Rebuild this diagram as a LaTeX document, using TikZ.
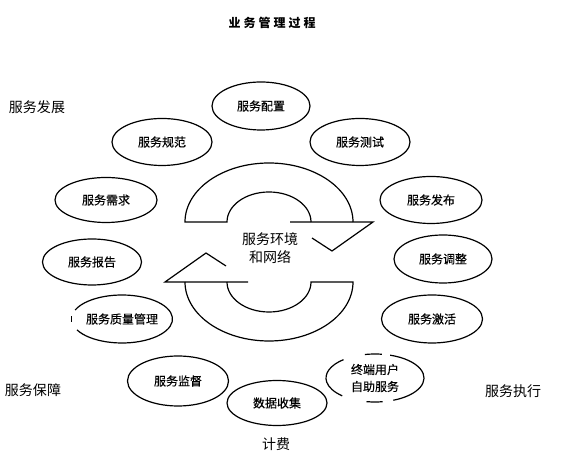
\documentclass[tikz,border=0pt]{standalone}
\usepackage{fontspec}
\setmainfont{Noto Sans CJK SC}
\newfontfamily\taskfont[FakeBold=0.4]{Noto Sans CJK SC}
\usetikzlibrary{shapes.geometric}

\begin{document}
\begin{tikzpicture}[
      x=1pt, y=1pt,
      task/.style={
        ellipse, draw, line width=1.2pt, inner sep=0pt,
        minimum width=100pt, minimum height=47pt,
        font=\taskfont\fontsize{12}{17}\selectfont, align=center
      },
      stage/.style={font=\fontsize{14}{16}\selectfont},
      loop/.style={line width=1.2pt, line join=miter}
      ]
      \useasboundingbox (0,0) rectangle (577,454);

      \node[font=\fontsize{12}{14}\selectfont\bfseries\addfontfeatures{LetterSpace=25}]
            (title) at (272,431) {业务管理过程};

      % stage labels
      \node[stage] (dev) at (37,347) {服务发展};
      \node[stage] (ens) at (33,64)  {服务保障};
      \node[stage] (exe) at (513,63) {服务执行};
      \node[stage] (fee) at (276,10) {计费};

      % process steps
      \node[task, minimum width=98pt, minimum height=48pt]  (pz) at (261,348) {服务配置};
      \node[task]                                           (gf) at (162,312) {服务规范};
      \node[task]                                           (cs) at (360,312) {服务测试};
      \node[task, minimum width=102pt, minimum height=45pt] (xq) at (106,254) {服务需求};
      \node[task, minimum width=102pt]                      (fb) at (431,254) {服务发布};
      \node[task, minimum width=99pt, minimum height=46pt]  (bg) at (92,192)  {服务报告};
      \node[task, minimum width=98pt, minimum height=48pt]  (tz) at (443,195) {服务调整};
      \node[task, draw=none]                                (zl) at (122,135) {服务质量管理};
      \node[task, minimum width=101pt, minimum height=48pt] (jh) at (432,135) {服务激活};
      \node[task, minimum width=101pt, minimum height=50pt] (jd) at (178,73)  {服务监督};
      \node[task, minimum height=45pt]                      (sj) at (277,51)  {数据收集};
      \node[task, draw=none]                                (zd) at (375,76)  {终端用户\\自助服务};

      % broken outlines
      \draw[line width=1.2pt] (zl.center) ++(-153:50.5pt and 24pt)
            arc[start angle=-153, end angle=158, x radius=50.5pt, y radius=24pt];
      \draw[line width=1.2pt] (zl.center) ++(174:50.5pt and 24pt)
            arc[start angle=174, end angle=186, x radius=50.5pt, y radius=24pt];
      \foreach \a/\b in {-68/72, 82/102, 130/228, 260/279}
        \draw[line width=1.2pt] (zd.center) ++(\a:49pt and 24pt)
              arc[start angle=\a, end angle=\b, x radius=49pt, y radius=24pt];

      % central cycle
      \coordinate (hub) at (269,202);
      \node[font=\fontsize{14}{18}\selectfont, align=center] (env) at (270,206) {服务环境\\和网络};
      \foreach \r in {0,180}{
        \draw[loop, rotate around={\r:(hub)}] ([shift={(21,30)}]hub) -- ([shift={(104,30)}]hub)
              -- ([shift={(63,1)}]hub) -- ([shift={(43,14)}]hub);
        \draw[loop, rotate around={\r:(hub)}] ([shift={(84,30)}]hub)
              arc[start angle=0, end angle=180, x radius=84pt, y radius=59pt]
              -- ([shift={(-42,30)}]hub)
              arc[start angle=180, end angle=0, x radius=42pt, y radius=30pt];
      }

\end{tikzpicture}
\end{document}
